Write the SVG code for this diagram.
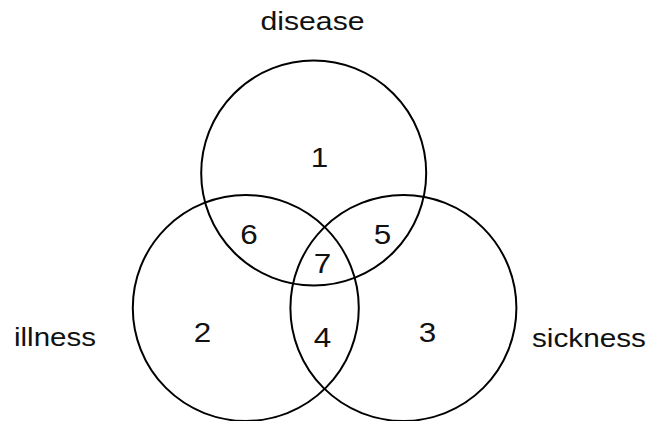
<svg xmlns="http://www.w3.org/2000/svg" width="647" height="421" viewBox="0 0 647 421">
<style>
.c{fill:none;stroke:#000;stroke-width:2}
.lbl{font-family:"Liberation Sans",Arial,sans-serif;font-size:25px;fill:#111;text-anchor:middle}
.num{font-family:"Liberation Sans",Arial,sans-serif;font-size:27px;fill:#111;text-anchor:middle}
</style>
<rect width="647" height="421" fill="#fff"/>
<g id="disease">
<circle class="c" cx="313.7" cy="173" r="112.5"/>
<text class="lbl" x="312.5" y="30" textLength="104" lengthAdjust="spacingAndGlyphs">disease</text>
</g>
<g id="illness">
<circle class="c" cx="245.8" cy="308" r="113"/>
<text class="lbl" x="55" y="346" textLength="82" lengthAdjust="spacingAndGlyphs">illness</text>
</g>
<g id="sickness">
<circle class="c" cx="403.4" cy="308" r="113"/>
<text class="lbl" x="589" y="346.5" textLength="114" lengthAdjust="spacingAndGlyphs">sickness</text>
</g>
<g id="regions">
<text class="num" x="319.5" y="166.5" textLength="17.5" lengthAdjust="spacingAndGlyphs">1</text>
<text class="num" x="202.5" y="342.3" textLength="17.5" lengthAdjust="spacingAndGlyphs">2</text>
<text class="num" x="427.5" y="342.3" textLength="17.5" lengthAdjust="spacingAndGlyphs">3</text>
<text class="num" x="322.5" y="347.3" textLength="17.5" lengthAdjust="spacingAndGlyphs">4</text>
<text class="num" x="382.5" y="244.3" textLength="17.5" lengthAdjust="spacingAndGlyphs">5</text>
<text class="num" x="249" y="244.3" textLength="17.5" lengthAdjust="spacingAndGlyphs">6</text>
<text class="num" x="322.5" y="273.3" textLength="17.5" lengthAdjust="spacingAndGlyphs">7</text>
</g>
</svg>
